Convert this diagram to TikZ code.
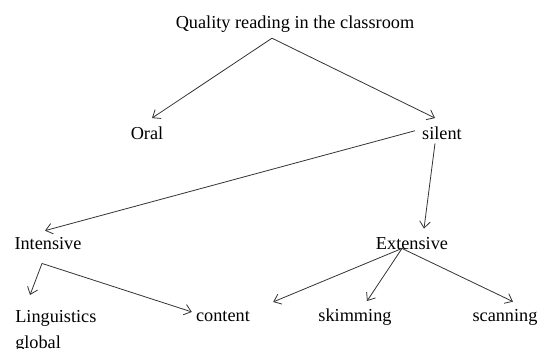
\documentclass[tikz,border=0pt]{standalone}
\usepackage{fontspec}
\setmainfont{Liberation Serif}
\usetikzlibrary{arrows.meta}
\begin{document}
\begin{tikzpicture}[x=0.75pt,y=-0.75pt,
    lbl/.style={inner sep=0pt,font=\fontsize{13.7}{19.5}\selectfont},
    arr/.style={draw=black!80,line width=0.6pt,-{Straight Barb[length=5pt,width=8pt]}}]
                \useasboundingbox (0,0) rectangle (537,349);
                \node[lbl,anchor=base] (title) at (295,29) {Quality reading in the classroom};
                \node[lbl,anchor=base] (oral) at (147,140) {Oral};
                \node[lbl,anchor=base] (silent) at (442,140) {silent};
                
                \node[lbl,anchor=base] (intensive) at (48,250) {Intensive};
                \node[lbl,anchor=base] (extensive) at (412,250) {Extensive};
                
                \node[lbl,anchor=north west,align=left] (ling) at (15,310) {Linguistics\\global};
                \node[lbl,anchor=base] (content) at (223,322) {content};
                \node[lbl,anchor=base] (skimming) at (355,322) {skimming};
                \node[lbl,anchor=base] (scanning) at (505,322) {scanning};
                
                \draw[arr] ([shift={(-23,5)}]title.south) -- ([shift={(5,-9)}]oral.north);
                \draw[arr] ([shift={(-23,5)}]title.south) -- ([shift={(-7,-9)}]silent.north);
                \draw[arr] ([shift={(-7,-3)}]silent.west) -- ([shift={(-3,-7)}]intensive.north);
                \draw[arr] ([shift={(-7,3)}]silent.south) -- ([shift={(12,-9)}]extensive.north);
                
                \draw[arr] ([shift={(-6,13)}]intensive.south) -- ([shift={(15,-15)}]ling.north west);
                \draw[arr] ([shift={(-6,13)}]intensive.south) -- ([shift={(-4,-5)}]content.west);
                
                \draw[arr] ([shift={(-10,-2)}]extensive.south) -- ([shift={(23,-15)}]content.east);
                \draw[arr] ([shift={(-10,-2)}]extensive.south) -- ([shift={(12,-8)}]skimming.north);
                \draw[arr] ([shift={(-10,-2)}]extensive.south) -- ([shift={(8,-8)}]scanning.north);
                \end{tikzpicture}
\end{document}
